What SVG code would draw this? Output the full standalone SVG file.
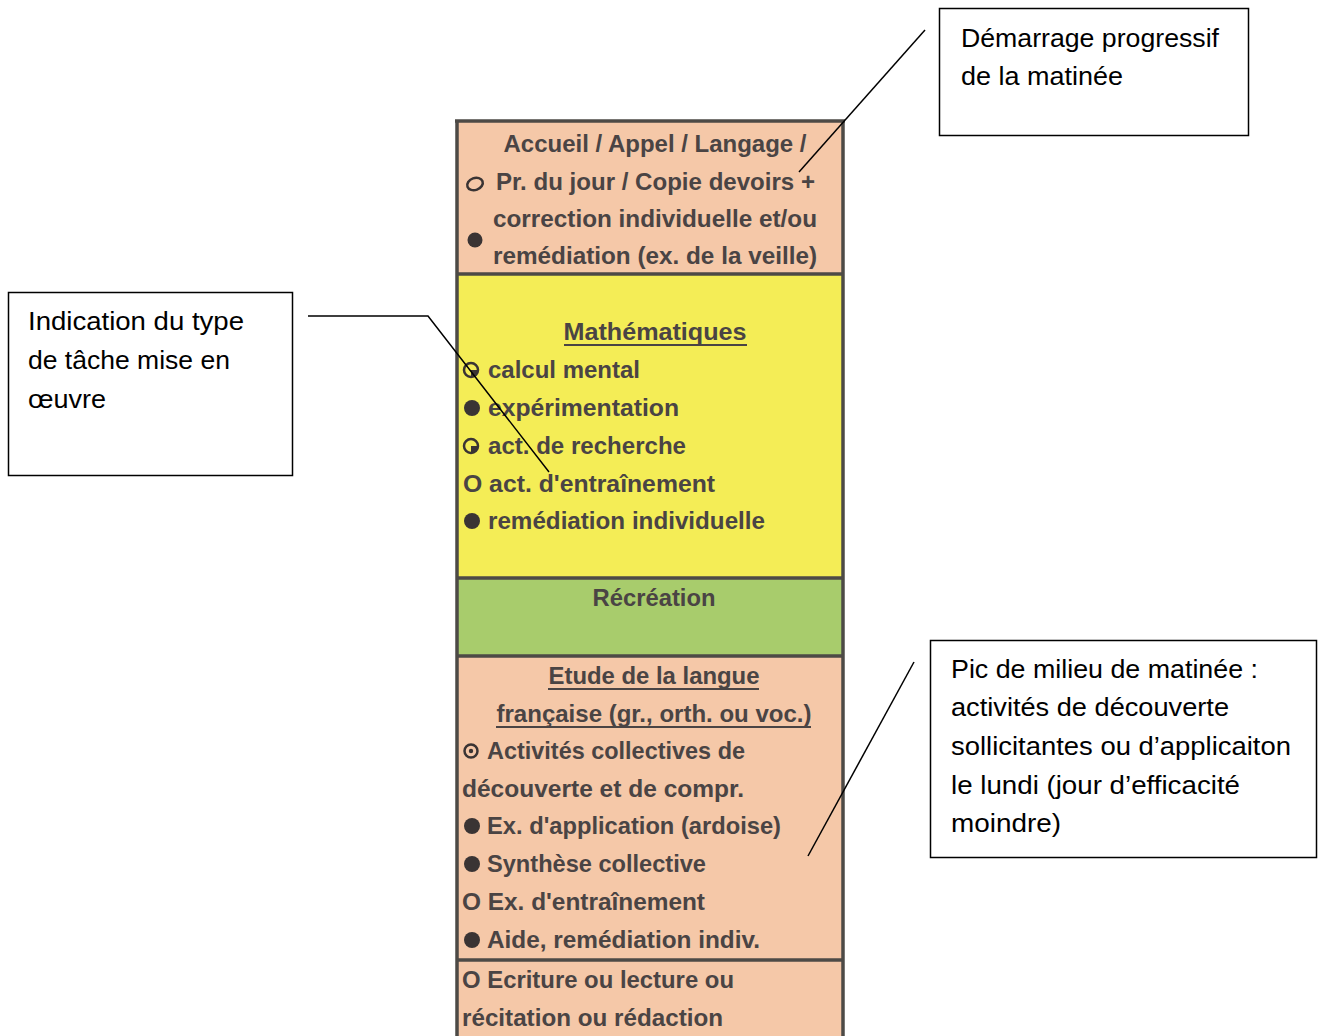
<svg xmlns="http://www.w3.org/2000/svg" width="1320" height="1036" viewBox="0 0 1320 1036">
<style>
.col{font-family:"Liberation Sans",Arial,sans-serif;font-weight:bold;font-size:24px;fill:#4a4444}
.mid{text-anchor:middle}
.call{font-family:"Liberation Sans",Arial,sans-serif;font-size:25px;fill:#000}
.box{fill:#fff;stroke:#000;stroke-width:1.5}
.div{stroke:#4d4a46;stroke-width:3.5}
.ul{stroke:#4a4444;stroke-width:1.8}
.dot{fill:#3a3434}
.ring{fill:none;stroke:#3a3434;stroke-width:2.5}
.conn{fill:none;stroke:#000;stroke-width:1.5}
</style>
<rect width="1320" height="1036" fill="#fff"/>

<g id="column">
  <rect x="457" y="121" width="386" height="153" fill="#f5c8a8"/>
  <rect x="457" y="274" width="386" height="304" fill="#f4ed56"/>
  <rect x="457" y="578" width="386" height="78" fill="#a8cc6c"/>
  <rect x="457" y="656" width="386" height="304" fill="#f5c8a8"/>
  <rect x="457" y="960" width="386" height="76" fill="#f5c8a8"/>
  <line class="div" x1="455" y1="121" x2="845" y2="121" stroke-width="4"/>
  <line class="div" x1="457" y1="121" x2="457" y2="1036"/>
  <line class="div" x1="843" y1="121" x2="843" y2="1036"/>
  <line class="div" x1="457" y1="274" x2="843" y2="274"/>
  <line class="div" x1="457" y1="578" x2="843" y2="578"/>
  <line class="div" x1="457" y1="656" x2="843" y2="656"/>
  <line class="div" x1="457" y1="960" x2="843" y2="960"/>
</g>

<g id="node-accueil">
  <text class="col mid" x="655" y="152" textLength="303" lengthAdjust="spacingAndGlyphs">Accueil / Appel / Langage /</text>
  <text class="col" x="496" y="190" textLength="319" lengthAdjust="spacingAndGlyphs">Pr. du jour / Copie devoirs +</text>
  <text class="col" x="493" y="227" textLength="324" lengthAdjust="spacingAndGlyphs">correction individuelle et/ou</text>
  <text class="col" x="493" y="264" textLength="324" lengthAdjust="spacingAndGlyphs">remédiation (ex. de la veille)</text>
  <ellipse class="ring" cx="475" cy="184" rx="8" ry="6" transform="rotate(-20 475 184)" stroke-width="3"/>
  <circle class="dot" cx="475" cy="240" r="7.5"/>
</g>

<g id="node-maths">
  <text class="col mid" x="655" y="340" textLength="183" lengthAdjust="spacingAndGlyphs">Mathématiques</text>
  <line class="ul" x1="564" y1="345" x2="747" y2="345"/>
  <circle class="ring" cx="471" cy="370" r="7"/>
  <path class="dot" d="M471 370 L478 370 A7 7 0 0 1 471 377 Z"/>
  <text class="col" x="488" y="378" textLength="152" lengthAdjust="spacingAndGlyphs">calcul mental</text>
  <circle class="dot" cx="472" cy="408" r="8"/>
  <text class="col" x="488" y="416" textLength="191" lengthAdjust="spacingAndGlyphs">expérimentation</text>
  <circle class="ring" cx="471" cy="446" r="7"/>
  <path class="dot" d="M471 446 L478 446 A7 7 0 0 1 471 453 Z"/>
  <text class="col" x="488" y="454" textLength="198" lengthAdjust="spacingAndGlyphs">act. de recherche</text>
  <text class="col" x="463" y="492" textLength="252" lengthAdjust="spacingAndGlyphs">O act. d'entraînement</text>
  <circle class="dot" cx="472" cy="521" r="8"/>
  <text class="col" x="488" y="529" textLength="277" lengthAdjust="spacingAndGlyphs">remédiation individuelle</text>
</g>

<g id="node-recreation">
  <text class="col mid" x="654" y="606" textLength="123" lengthAdjust="spacingAndGlyphs">Récréation</text>
</g>

<g id="node-langue">
  <text class="col mid" x="654" y="684" textLength="211" lengthAdjust="spacingAndGlyphs">Etude de la langue</text>
  <line class="ul" x1="548" y1="689" x2="759" y2="689"/>
  <text class="col mid" x="654" y="722" textLength="315" lengthAdjust="spacingAndGlyphs">française (gr., orth. ou voc.)</text>
  <line class="ul" x1="496" y1="727" x2="811" y2="727"/>
  <circle class="ring" cx="471" cy="751" r="6.5" stroke-width="2"/>
  <circle class="dot" cx="471" cy="751" r="2.2"/>
  <text class="col" x="487" y="759" textLength="258" lengthAdjust="spacingAndGlyphs">Activités collectives de</text>
  <text class="col" x="462" y="797" textLength="282" lengthAdjust="spacingAndGlyphs">découverte et de compr.</text>
  <circle class="dot" cx="472" cy="826" r="8"/>
  <text class="col" x="487" y="834" textLength="294" lengthAdjust="spacingAndGlyphs">Ex. d'application (ardoise)</text>
  <circle class="dot" cx="472" cy="864" r="8"/>
  <text class="col" x="487" y="872" textLength="219" lengthAdjust="spacingAndGlyphs">Synthèse collective</text>
  <text class="col" x="462" y="910" textLength="243" lengthAdjust="spacingAndGlyphs">O Ex. d'entraînement</text>
  <circle class="dot" cx="472" cy="940" r="8"/>
  <text class="col" x="487" y="948" textLength="273" lengthAdjust="spacingAndGlyphs">Aide, remédiation indiv.</text>
</g>

<g id="node-ecriture">
  <text class="col" x="462" y="988" textLength="272" lengthAdjust="spacingAndGlyphs">O Ecriture ou lecture ou</text>
  <text class="col" x="462" y="1026" textLength="261" lengthAdjust="spacingAndGlyphs">récitation ou rédaction</text>
</g>

<g id="callout-demarrage">
  <rect class="box" x="939.5" y="8.5" width="309" height="127"/>
  <text class="call" x="961" y="47" textLength="258" lengthAdjust="spacingAndGlyphs">Démarrage progressif</text>
  <text class="call" x="961" y="85" textLength="162" lengthAdjust="spacingAndGlyphs">de la matinée</text>
</g>

<g id="callout-indication">
  <rect class="box" x="8.5" y="292.5" width="284" height="183"/>
  <text class="call" x="28" y="330" textLength="216" lengthAdjust="spacingAndGlyphs">Indication du type</text>
  <text class="call" x="28" y="369" textLength="202" lengthAdjust="spacingAndGlyphs">de tâche mise en</text>
  <text class="call" x="28" y="408" textLength="78" lengthAdjust="spacingAndGlyphs">œuvre</text>
</g>

<g id="callout-pic">
  <rect class="box" x="930.5" y="640.5" width="386" height="217"/>
  <text class="call" x="951" y="678" textLength="307" lengthAdjust="spacingAndGlyphs">Pic de milieu de matinée :</text>
  <text class="call" x="951" y="716" textLength="278" lengthAdjust="spacingAndGlyphs">activités de découverte</text>
  <text class="call" x="951" y="755" textLength="340" lengthAdjust="spacingAndGlyphs">sollicitantes ou d’applicaiton</text>
  <text class="call" x="951" y="794" textLength="289" lengthAdjust="spacingAndGlyphs">le lundi (jour d’efficacité</text>
  <text class="call" x="951" y="832" textLength="110" lengthAdjust="spacingAndGlyphs">moindre)</text>
</g>

<g id="connectors">
  <line class="conn" x1="925" y1="30" x2="799" y2="172"/>
  <polyline class="conn" points="308,316 428,316 549,472"/>
  <line class="conn" x1="914" y1="662" x2="808" y2="856"/>
</g>
</svg>
